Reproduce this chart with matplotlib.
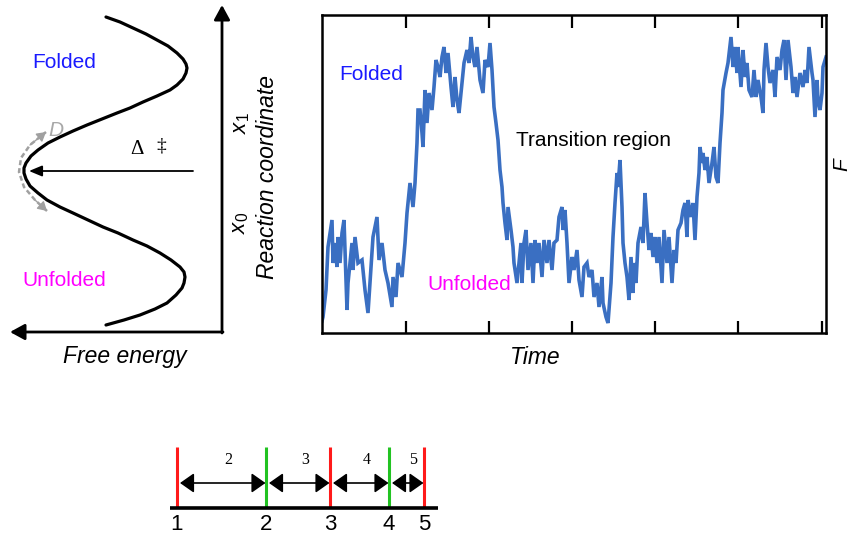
import numpy as np
import matplotlib
matplotlib.use('Agg')
import matplotlib.pyplot as plt

plt.rcParams['font.family'] = ['Liberation Sans', 'DejaVu Sans']
plt.rcParams['mathtext.fontset'] = 'custom'
plt.rcParams['mathtext.it'] = 'Liberation Sans:italic'
plt.rcParams['mathtext.rm'] = 'Liberation Sans'

# ---------------- data ----------------
# free-energy landscape (free energy G increases to the left, reaction coordinate q upward)
landscape_G = [116, 102, 89, 76, 65, 54, 45, 39, 36, 35, 36, 39, 45, 52, 65, 79, 92, 105, 120, 135,
               149, 162, 174, 184, 191, 196, 198, 198, 196, 192, 184, 175, 162, 149, 134, 119, 104, 89,
               75, 62, 51, 42, 38, 37, 38, 40, 46, 55, 67, 82, 98, 116]
landscape_q = [315, 310, 304, 298, 292, 286, 279, 273, 268, 264, 259, 253, 247, 242, 236, 230, 224, 219, 213, 207,
               201, 195, 189, 182, 176, 169, 164, 159, 153, 146, 139, 132, 125, 119, 112, 105, 99, 92,
               86, 79, 72, 65, 60, 55, 49, 44, 37, 29, 23, 17, 12, 7]
# diffusion arrow path along the barrier top
diffusion_G = [175, 187, 198, 203, 201, 192, 176]
diffusion_q = [121, 132, 145, 160, 174, 187, 200]
barrier_arrow_G = [29, 193]
barrier_arrow_q = [161, 161]

# time trace
trace_time = [0, 1, 4, 6, 10, 11, 13, 15, 16, 18, 20, 22, 25, 26, 30, 31, 33, 36, 40, 43,
              46, 48, 51, 55, 57, 60, 63, 66, 70, 71, 74, 76, 80, 83, 85, 88, 91, 93, 95, 96,
              98, 100, 101, 103, 105, 107, 110, 112, 114, 116, 118, 120, 122, 124, 126, 129, 131, 133, 135, 137,
              140, 142, 145, 147, 149, 151, 153, 155, 158, 161, 163, 166, 168, 170, 172, 174, 176, 178, 180, 181,
              183, 185, 186, 189, 191, 192, 195, 197, 199, 200, 202, 204, 206, 209, 211, 213, 215, 217, 220, 222,
              225, 227, 230, 232, 235, 237, 240, 241, 243, 245, 247, 250, 252, 255, 257, 260, 262, 265, 267, 270,
              272, 275, 277, 280, 281, 284, 286, 289, 291, 293, 295, 296, 298, 300, 301, 303, 305, 307, 309, 311,
              312, 314, 316, 319, 321, 323, 325, 327, 329, 331, 333, 335, 337, 340, 342, 345, 347, 350, 352, 354,
              356, 359, 361, 363, 365, 366, 369, 371, 373, 375, 377, 378, 380, 381, 383, 385, 387, 390, 392, 394,
              396, 398, 400, 401, 404, 406, 409, 411, 413, 415, 416, 419, 421, 423, 425, 427, 430, 432, 434, 436,
              439, 441, 442, 444, 446, 448, 451, 453, 455, 458, 460, 462, 464, 466, 469, 471, 473, 475, 478, 481,
              483, 485, 487, 490, 491, 493, 495, 496, 498, 500, 501, 504]
trace_value = [12, 16, 43, 86, 113, 70, 90, 66, 96, 70, 100, 113, 23, 50, 90, 63, 96, 70, 73, 43,
               20, 50, 96, 116, 73, 90, 63, 50, 26, 56, 36, 70, 56, 90, 120, 150, 126, 150, 190, 223,
               223, 200, 186, 243, 210, 240, 223, 246, 273, 266, 256, 276, 286, 260, 280, 246, 226, 256, 233, 220,
               250, 270, 283, 270, 296, 276, 266, 286, 253, 240, 273, 266, 290, 263, 226, 210, 193, 163, 146, 130,
               110, 93, 126, 103, 86, 70, 50, 70, 90, 50, 90, 103, 63, 90, 50, 93, 70, 90, 56, 93,
               70, 93, 63, 90, 93, 116, 126, 103, 123, 90, 50, 76, 63, 83, 53, 36, 66, 70, 56, 63,
               36, 50, 26, 56, 30, 16, 10, 50, 96, 130, 160, 146, 173, 126, 90, 70, 56, 33, 76, 40,
               70, 50, 90, 106, 90, 140, 110, 83, 100, 76, 96, 70, 96, 50, 103, 70, 96, 50, 83, 70,
               103, 110, 123, 130, 96, 133, 116, 130, 93, 136, 160, 186, 170, 180, 163, 176, 150, 170, 186, 156,
               150, 190, 220, 243, 260, 270, 296, 266, 286, 260, 286, 246, 283, 256, 270, 243, 236, 263, 236, 253,
               236, 220, 263, 290, 266, 250, 263, 236, 276, 263, 283, 293, 253, 293, 266, 240, 256, 236, 260, 246,
               263, 250, 286, 260, 253, 216, 253, 233, 223, 240, 266, 276]
assert len(trace_time) == len(trace_value)
tick_times = [84, 167, 250, 333, 416, 500]

# event timeline
event_times = [0, 89, 153, 212, 247]
event_labels = ['1', '2', '3', '4', '5']
event_colors = ['#ff1a1a', '#22c322', '#ff1a1a', '#22c322', '#ff1a1a']
interval_labels = ['2', '3', '4', '5']

# ---------------- figure ----------------
W, H = 852, 538
fig = plt.figure(figsize=(W / 100, H / 100), dpi=100)


def fx(px):
    return px / W


def fy(py):
    return 1 - py / H


# ---- left panel: free energy landscape ----
axL = fig.add_axes([0, fy(345), fx(230), 345 / H])
axL.set_xlim(222, -8)
axL.set_ylim(-13, 332)
axL.axis('off')
axL.plot(landscape_G, landscape_q, color='black', lw=2.3,
         solid_capstyle='round', solid_joinstyle='round')
axL.annotate('', xy=(0, 327), xytext=(0, -1),
             arrowprops=dict(arrowstyle='-|>,head_length=0.55,head_width=0.3',
                             color='black', lw=2.0, shrinkA=0, shrinkB=0, mutation_scale=16))
axL.annotate('', xy=(212, 0), xytext=(-1, 0),
             arrowprops=dict(arrowstyle='-|>,head_length=0.55,head_width=0.3',
                             color='black', lw=2.0, shrinkA=0, shrinkB=0, mutation_scale=16))
axL.annotate('', xy=(barrier_arrow_G[1], barrier_arrow_q[1]),
             xytext=(barrier_arrow_G[0], barrier_arrow_q[0]),
             arrowprops=dict(arrowstyle='-|>,head_length=0.6,head_width=0.25',
                             color='black', lw=1.3, shrinkA=0, shrinkB=0, mutation_scale=13))
axL.plot(diffusion_G, diffusion_q, color='#a0a0a0', lw=1.8, ls=(0, (2, 1.2)))
for i0, i1 in [(1, 0), (-2, -1)]:
    axL.annotate('', xy=(diffusion_G[i1], diffusion_q[i1]),
                 xytext=(diffusion_G[i0], diffusion_q[i0]),
                 arrowprops=dict(arrowstyle='-|>,head_length=0.6,head_width=0.35',
                                 color='#a0a0a0', lw=1.0, shrinkA=0, shrinkB=0, mutation_scale=9))

fig.text(fx(64), fy(62), 'Folded', color='#1a1aff', fontsize=15, ha='center', va='center')
fig.text(fx(64), fy(280), 'Unfolded', color='#ff00ff', fontsize=15, ha='center', va='center')
fig.text(fx(56), fy(130), 'D', color='#a8a8a8', fontsize=15, style='italic', ha='center', va='center')
fig.text(fx(137), fy(150), '\u0394', fontsize=15, family=['Liberation Serif', 'DejaVu Serif'],
         ha='center', va='center')
fig.text(fx(161), fy(146), '\u2021', fontsize=14, family=['Liberation Serif', 'DejaVu Serif'],
         ha='center', va='center')
fig.text(fx(125), fy(356), 'Free energy', fontsize=16.5, style='italic', ha='center', va='center')
fig.text(fx(242), fy(123), r'$x_{\mathit{1}}$', fontsize=16, rotation=90, ha='center', va='center')
fig.text(fx(241), fy(223), r'$x_{\mathit{0}}$', fontsize=16, rotation=90, ha='center', va='center')
fig.text(fx(267), fy(177), 'Reaction coordinate', fontsize=16.5, style='italic', rotation=90,
         ha='center', va='center')

# ---- right panel: time trace ----
axT = fig.add_axes([fx(322), fy(333), fx(826) - fx(322), (333 - 15) / H])
axT.plot(trace_time, trace_value, color='#3a6fc2', lw=2.6, solid_joinstyle='miter')
axT.set_xlim(0, 504)
axT.set_ylim(0, 318)
axT.set_xticks(tick_times)
axT.set_xticklabels([])
axT.set_yticks([])
axT.tick_params(axis='x', direction='in', length=9, width=1.6, top=True, bottom=True)
for s in axT.spines.values():
    s.set_linewidth(1.8)

fig.text(fx(371), fy(74), 'Folded', color='#1a1aff', fontsize=15, ha='center', va='center')
fig.text(fx(593), fy(141), 'Transition region', color='black', fontsize=15, ha='center', va='center')
fig.text(fx(469), fy(284), 'Unfolded', color='#ff00ff', fontsize=15, ha='center', va='center')
fig.text(fx(535), fy(358), 'Time', fontsize=16.5, style='italic', ha='center', va='center')
fig.text(fx(842), fy(165), 'F', fontsize=15, style='italic', rotation=90, ha='center', va='center')

# ---- bottom: event timeline ----
axB = fig.add_axes([fx(160), 0, fx(445) - fx(160), 98 / H])
axB.set_xlim(-17, 268)
axB.set_ylim(0, 98)
axB.axis('off')
axB.vlines(event_times, 30, 91, colors=event_colors, lw=2.2, zorder=2)
axB.plot([event_times[0] - 7, event_times[-1] + 14], [30, 30], color='black', lw=2.6,
         solid_capstyle='butt', zorder=3)
for t, lab in zip(event_times, event_labels):
    axB.text(t, 13, lab, fontsize=16, ha='center', va='center')
for i, lab in enumerate(interval_labels):
    a, b = event_times[i], event_times[i + 1]
    axB.annotate('', xy=(b - 0.5, 55), xytext=(a + 3, 55),
                 arrowprops=dict(arrowstyle='<|-|>,head_length=0.37,head_width=0.26',
                                 color='black', lw=1.2, shrinkA=0, shrinkB=0, mutation_scale=23))
    axB.text((a + b) / 2 + 7, 78, lab, fontsize=11.5, family=['Liberation Serif', 'DejaVu Serif'],
             ha='center', va='center')

fig.savefig('out.png', dpi=100)
